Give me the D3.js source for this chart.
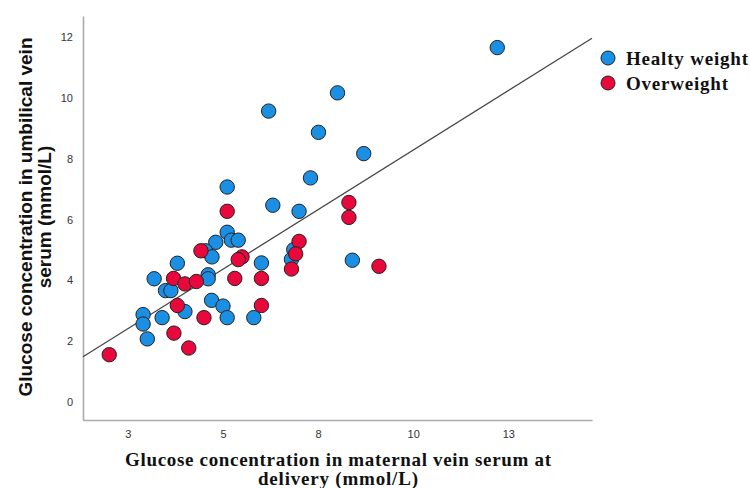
<!DOCTYPE html>
<html>
<head>
<meta charset="utf-8">
<script src="https://cdn.jsdelivr.net/npm/d3@7"></script>
<style>
	body { margin: 0; background: #fff; }
	svg { display: block; }
</style>
</head>
<body>
<svg width="750" height="488"></svg>
<script>
// maternal (x) vs umbilical (y) glucose, mmol/L
const healthyX = [12.21, 6.20, 8.01, 7.51, 8.70, 7.30, 5.11, 6.31, 7.00, 8.40, 5.11, 5.22, 5.40, 4.81, 4.54, 4.71, 6.01,
	6.86, 6.80, 4.61, 4.61, 3.80, 3.19, 3.49, 3.63, 4.70, 5.00, 4.00, 2.90, 2.90, 3.40, 5.11, 5.81, 3.01]
const healthyY = [11.66, 9.57, 10.17, 8.87, 8.17, 7.37, 7.07, 6.47, 6.27, 4.66, 5.58, 5.32, 5.32, 5.25, 4.97, 4.77, 4.57,
	5.01, 4.69, 4.18, 4.05, 4.56, 4.05, 3.66, 3.66, 3.34, 3.15, 2.97, 2.87, 2.56, 2.77, 2.77, 2.77, 2.07]
const overX = [2.01, 5.11, 8.31, 8.31, 7.00, 6.91, 6.80, 9.10, 4.42, 5.50, 5.40, 5.31, 6.01, 3.70, 4.00, 4.30, 3.80,
	6.01, 4.50, 3.71, 4.10]
const overY = [1.55, 6.27, 6.56, 6.07, 5.28, 4.87, 4.37, 4.46, 4.97, 4.77, 4.68, 4.06, 4.06, 4.06, 3.88, 3.96, 3.17,
	3.17, 2.77, 2.26, 1.77]

const xTicks = [2.5, 5, 7.5, 10, 12.5]
const yTicks = [0, 2, 4, 6, 8, 10, 12]
const fitIntercept = 0.445, fitSlope = 0.784

const groups = [
	{ name: 'Healty weight', color: '#1b8fe3', xs: healthyX, ys: healthyY, w: 122 },
	{ name: 'Overweight', color: '#e8083c', xs: overX, ys: overY, w: 102 }
]

const svg = d3.select('svg')

const x = d3.scaleLinear().domain([1.32, 14.7]).range([83, 592])
const y = d3.scaleLinear().domain([-0.6, 12.7]).range([420, 16])

// axes (no tick marks, SPSS style)
svg.append('g')
	.attr('transform', 'translate(0,420)')
	.call(d3.axisBottom(x).tickValues(xTicks).tickSize(0).tickPadding(10)
		.tickFormat(d => Math.round(d)))
svg.append('g')
	.attr('transform', 'translate(83,0)')
	.call(d3.axisLeft(y).tickValues(yTicks).tickSize(0).tickPadding(10))

svg.selectAll('.domain').attr('stroke', '#aaa').attr('stroke-width', 1.6)
svg.selectAll('.tick text')
	.attr('font-family', 'Liberation Sans, Arial, sans-serif')
	.attr('font-size', 11)
	.attr('fill', '#333')

// fit line
svg.append('line')
	.attr('x1', x(1.32)).attr('y1', y(fitIntercept + fitSlope * 1.32))
	.attr('x2', x(14.7)).attr('y2', y(fitIntercept + fitSlope * 14.7))
	.attr('stroke', '#444')
	.attr('stroke-width', 1.2)

groups.forEach(g => {
	svg.append('g')
		.selectAll('circle')
		.data(g.xs.map((v, i) => [v, g.ys[i]]))
		.join('circle')
		.attr('cx', d => x(d[0]))
		.attr('cy', d => y(d[1]))
		.attr('r', 7.2)
		.attr('fill', g.color)
		.attr('stroke', '#222')
		.attr('stroke-width', 1)
})

// legend
const legend = svg.append('g')
groups.forEach((g, i) => {
	legend.append('circle')
		.attr('cx', 608).attr('cy', 58 + i * 25)
		.attr('r', 7)
		.attr('fill', g.color)
		.attr('stroke', '#222')
	legend.append('text')
		.attr('x', 626).attr('y', 65 + i * 24.5)
		.attr('font-family', 'Liberation Serif, serif')
		.attr('font-weight', 'bold')
		.attr('font-size', 19)
		.attr('textLength', g.w)
		.attr('lengthAdjust', 'spacing')
		.attr('fill', '#111')
		.text(g.name)
})

// axis titles
const yTitle = svg.append('text')
	.attr('transform', 'translate(0,217) rotate(-90)')
	.attr('text-anchor', 'middle')
	.attr('font-family', 'Liberation Sans, Arial, sans-serif')
	.attr('font-weight', 'bold')
	.attr('font-size', 19)
	.attr('fill', '#111')
yTitle.append('tspan').attr('x', 0).attr('y', 32).text('Glucose concentration in umbilical vein')
yTitle.append('tspan').attr('x', 0).attr('y', 51).text('serum (mmol/L)')

const xTitle = svg.append('text')
	.attr('text-anchor', 'middle')
	.attr('font-family', 'Liberation Serif, serif')
	.attr('font-weight', 'bold')
	.attr('font-size', 19)
	.attr('fill', '#111')
xTitle.append('tspan').attr('x', 338).attr('y', 466)
	.attr('textLength', 426).attr('lengthAdjust', 'spacing')
	.text('Glucose concentration in maternal vein serum at')
xTitle.append('tspan').attr('x', 338).attr('y', 485)
	.attr('textLength', 160).attr('lengthAdjust', 'spacing')
	.text('delivery (mmol/L)')
</script>
</body>
</html>
